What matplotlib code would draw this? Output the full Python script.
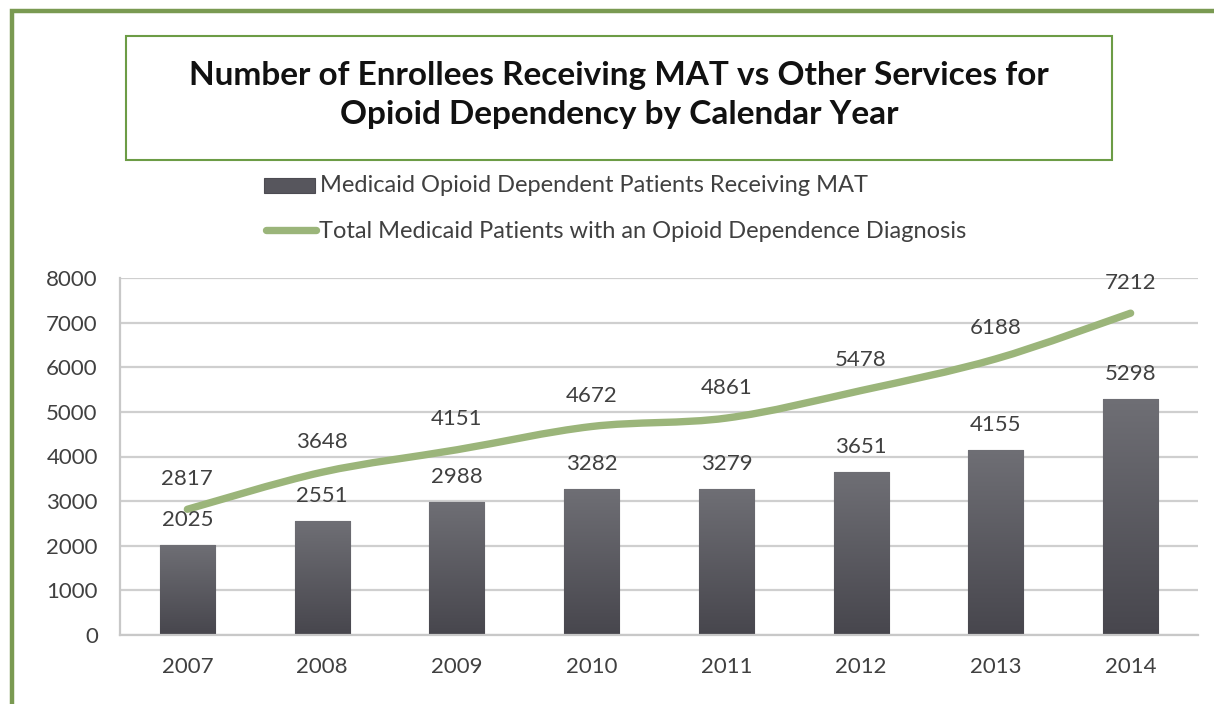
import numpy as np
import matplotlib
matplotlib.use("Agg")
import matplotlib.pyplot as plt
from matplotlib.path import Path
from matplotlib.patches import PathPatch, Rectangle
from matplotlib.lines import Line2D

years = ["2007", "2008", "2009", "2010", "2011", "2012", "2013", "2014"]
mat_patients = [2025, 2551, 2988, 3282, 3279, 3651, 4155, 5298]
total_patients = [2817, 3648, 4151, 4672, 4861, 5478, 6188, 7212]
bar_label = "Medicaid Opioid Dependent Patients Receiving MAT"
line_label = "Total Medicaid Patients with an Opioid Dependence Diagnosis"
title = "Number of Enrollees Receiving MAT vs Other Services for\nOpioid Dependency by Calendar Year"
yticks = [0, 1000, 2000, 3000, 4000, 5000, 6000, 7000, 8000]

FONT = "Lato"
TXT = "#404040"
GREEN_LINE = "#9bb57a"
FRAME = "#7a9a52"
BOX = "#6c9c46"

fig = plt.figure(figsize=(12.14, 7.04), dpi=100)
fig.patch.set_facecolor("white")

# outer frame (top and left visible)
fig.add_artist(Rectangle((11.5 / 1214, -0.2), 1.5, 0.2 + (704 - 10.5) / 704,
                         transform=fig.transFigure, fill=False,
                         edgecolor=FRAME, linewidth=3.2))

# title box
fig.add_artist(Rectangle((126 / 1214, (704 - 160) / 704), (1112 - 126) / 1214, 124 / 704,
                         transform=fig.transFigure, fill=False,
                         edgecolor=BOX, linewidth=1.5))
fig.text(619 / 1214, (704 - 95) / 704, title, ha="center", va="center",
         fontsize=24, fontweight="bold", family=FONT, color="#111111",
         linespacing=1.42)

ax = fig.add_axes([120 / 1214, 69 / 704, (1198 - 120) / 1214, (635 - 278) / 704])
x = np.arange(len(years))
ax.set_xlim(-0.5, len(years) - 0.5)
ax.set_ylim(0, 8000)
ax.set_yticks(yticks)
ax.set_xticks(x)
ax.set_xticklabels(years)
ax.yaxis.grid(True, color="#cfcfcf", linewidth=1.6)
ax.set_axisbelow(True)
for s in ["top", "right"]:
    ax.spines[s].set_visible(False)
for s in ["left", "bottom"]:
    ax.spines[s].set_color("#c8c8c8")
    ax.spines[s].set_linewidth(1.6)
ax.tick_params(length=0, labelsize=16, labelcolor=TXT)
ax.tick_params(axis="x", pad=16)
ax.tick_params(axis="y", pad=16)
for lab in ax.get_xticklabels() + ax.get_yticklabels():
    lab.set_family(FONT)

# bars with vertical gradient
bw = 0.41
bars = ax.bar(x, mat_patients, width=bw, color="#5a5960", edgecolor="#4c4b52",
              linewidth=0.8, zorder=2)
grad = np.linspace(0, 1, 256).reshape(-1, 1)
cmap = matplotlib.colors.LinearSegmentedColormap.from_list("g", ["#47464d", "#6f6f75"])
for b in bars:
    im = ax.imshow(grad, cmap=cmap, origin="lower", aspect="auto",
                   extent=[b.get_x(), b.get_x() + b.get_width(), 0, b.get_height()],
                   zorder=2.1)
    im.set_clip_path(b)
ax.set_xlim(-0.5, len(years) - 0.5)
ax.set_ylim(0, 8000)

# smoothed line (Bezier through data points)
pts = np.column_stack([x, total_patients]).astype(float)
verts = [tuple(pts[0])]
codes = [Path.MOVETO]
n = len(pts)
for i in range(n - 1):
    p0 = pts[i - 1] if i > 0 else pts[i]
    p1 = pts[i]
    p2 = pts[i + 1]
    p3 = pts[i + 2] if i + 2 < n else pts[i + 1]
    c1 = p1 + (p2 - p0) / 6.0
    c2 = p2 - (p3 - p1) / 6.0
    verts += [tuple(c1), tuple(c2), tuple(p2)]
    codes += [Path.CURVE4] * 3
ax.add_patch(PathPatch(Path(verts, codes), fill=False, edgecolor=GREEN_LINE,
                       linewidth=5.3, capstyle="round", joinstyle="round", zorder=3))

# data labels
for xi, v in zip(x, mat_patients):
    ax.annotate(str(v), (xi, v), xytext=(0, 18), textcoords="offset points",
                ha="center", va="center", fontsize=16, color=TXT, family=FONT,
                zorder=4)
for xi, v in zip(x, total_patients):
    ax.annotate(str(v), (xi, v), xytext=(0, 22), textcoords="offset points",
                ha="center", va="center", fontsize=16, color=TXT, family=FONT,
                zorder=4)

# legend (manual)
fig.add_artist(Rectangle((264 / 1214, (704 - 193) / 704), 51 / 1214, 15 / 704,
                         transform=fig.transFigure, facecolor="#57565d",
                         edgecolor="#4c4b52", linewidth=0.8))
fig.add_artist(Line2D([266 / 1214, 316 / 1214], [(704 - 230) / 704] * 2,
                      transform=fig.transFigure, color=GREEN_LINE, linewidth=5.3,
                      solid_capstyle="round"))
fig.text(320 / 1214, (704 - 186) / 704, bar_label, ha="left", va="center",
         fontsize=17, color=TXT, family=FONT)
fig.text(319 / 1214, (704 - 231) / 704, line_label, ha="left", va="center",
         fontsize=17, color=TXT, family=FONT)

fig.savefig("out.png", dpi=100, facecolor="white")
